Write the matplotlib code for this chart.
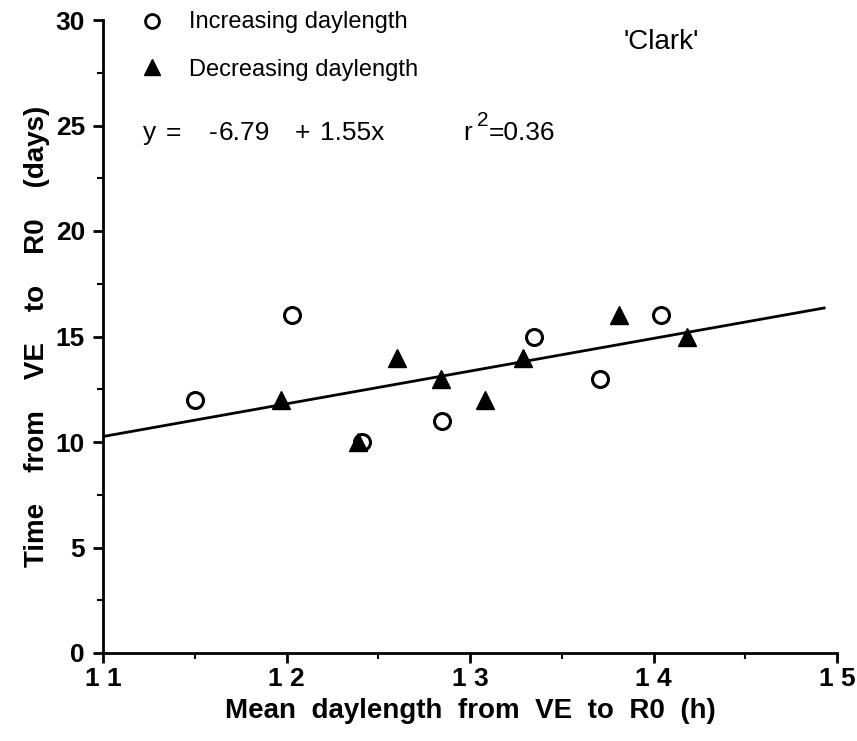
import matplotlib
matplotlib.use("Agg")
import matplotlib.pyplot as plt
import numpy as np

# Data
inc_x = [11.50, 12.03, 12.41, 12.85, 13.35, 13.71, 14.04]
inc_y = [12, 16, 10, 11, 15, 13, 16]
dec_x = [11.97, 12.39, 12.60, 12.84, 13.08, 13.29, 13.81, 14.18]
dec_y = [12, 10, 14, 13, 12, 14, 16, 15]
intercept = -6.79
slope = 1.55
x_ticks = [11, 12, 13, 14, 15]
x_ticklabels = ["1 1", "1 2", "1 3", "1 4", "1 5"]
y_ticks = [0, 5, 10, 15, 20, 25, 30]

plt.rcParams['font.family'] = ['Liberation Sans', 'DejaVu Sans']

fig = plt.figure(figsize=(8.57, 7.41), dpi=100)
ax = fig.add_axes([103/857, 1-653/741, (837-103)/857, (653-20)/741])

ax.set_xlim(11, 15)
ax.set_ylim(0, 30)

# regression line
lx = np.array([11, 14.93])
ax.plot(lx, intercept + slope*lx, color='black', lw=2, zorder=2)

ax.plot(inc_x, inc_y, linestyle='none', marker='o', markersize=11.5,
        markerfacecolor='white', markeredgecolor='black', markeredgewidth=2.2,
        zorder=3, clip_on=False)
ax.plot(dec_x, dec_y, linestyle='none', marker='^', markersize=12.5,
        markerfacecolor='black', markeredgecolor='black', zorder=3, clip_on=False)

for s in ['top', 'right']:
    ax.spines[s].set_visible(False)
for s in ['left', 'bottom']:
    ax.spines[s].set_linewidth(2)

ax.set_xticks(x_ticks)
ax.set_xticklabels(x_ticklabels, fontsize=19, fontweight='bold')
ax.set_yticks(y_ticks)
ax.set_yticklabels([str(v) for v in y_ticks], fontsize=19, fontweight='bold')
ax.set_xticks(np.arange(11.5, 15, 1.0), minor=True)
ax.set_yticks(np.arange(2.5, 30, 5.0), minor=True)
ax.tick_params(which='major', direction='out', length=7, width=2, pad=3)
ax.tick_params(axis='y', which='major', pad=6)
ax.tick_params(which='minor', direction='out', length=4, width=1.5)

ax.set_xlabel("Mean  daylength  from  VE  to  R0  (h)", fontsize=20,
              fontweight='bold', labelpad=5)
ax.set_ylabel("Time    from    VE    to    R0    (days)", fontsize=20,
              fontweight='bold', labelpad=4)

# legend-like annotations
ax.plot([11.267], [29.95], marker='o', markersize=10, markerfacecolor='white',
        markeredgecolor='black', markeredgewidth=2, clip_on=False, linestyle='none')
ax.plot([11.267], [27.75], marker='^', markersize=11, color='black',
        clip_on=False, linestyle='none')
ax.text(11.47, 29.9, "Increasing daylength", fontsize=17, va='center', ha='left')
ax.text(11.47, 27.65, "Decreasing daylength", fontsize=17, va='center', ha='left')

eq_y = 24.65
tkw = dict(fontsize=19, va='center', ha='left')
ax.text(11.218, eq_y, "y", **tkw)
ax.text(11.343, eq_y, "=", **tkw)
ax.text(11.578, eq_y, "-", **tkw)
ax.text(11.632, eq_y, "6.79", **tkw)
ax.text(12.046, eq_y, "+", **tkw)
ax.text(12.180, eq_y, "1.55x", **tkw)
ax.text(12.962, eq_y, "r", **tkw)
ax.text(13.036, eq_y + 0.6, "2", fontsize=15, va='center', ha='left')
ax.text(13.104, eq_y, "=0.36", **tkw)
ax.text(14.04, 28.95, "'Clark'", fontsize=20, va='center', ha='center')

fig.savefig("out.png", dpi=100)
